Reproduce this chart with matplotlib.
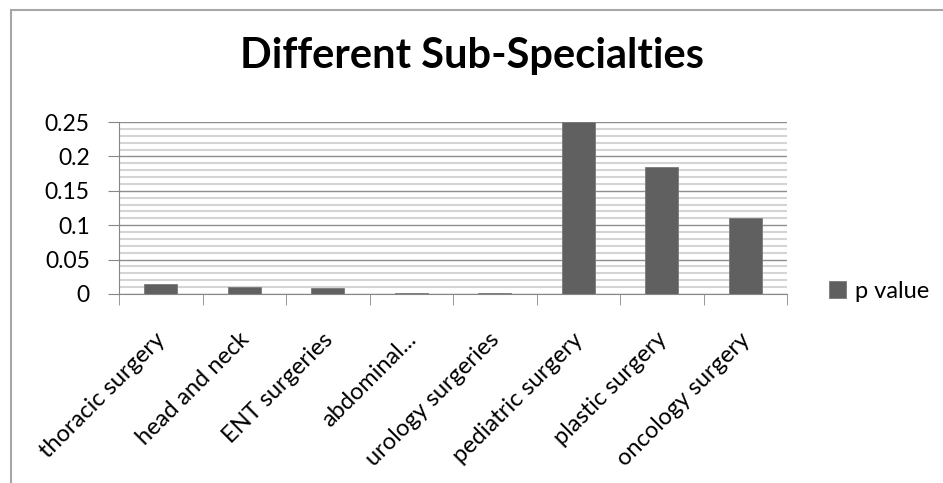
import matplotlib
matplotlib.use("Agg")
import matplotlib.pyplot as plt
from matplotlib.lines import Line2D
from matplotlib.ticker import MultipleLocator, FixedLocator
from matplotlib.transforms import ScaledTranslation
import numpy as np

categories = ["thoracic surgery", "head and neck", "ENT surgeries", "abdominal...",
              "urology surgeries", "pediatric surgery", "plastic surgery", "oncology surgery"]
p_values = [0.015, 0.010, 0.008, 0.0008, 0.0008, 0.25, 0.184, 0.110]
y_ticks = [0, 0.05, 0.1, 0.15, 0.2, 0.25]
y_tick_labels = ["0", "0.05", "0.1", "0.15", "0.2", "0.25"]
series_name = "p value"
title = "Different Sub-Specialties"

FONT = ["Lato", "DejaVu Sans"]
plt.rcParams["font.family"] = FONT

W, H = 943, 483
fig = plt.figure(figsize=(W / 100, H / 100), dpi=100)
fig.patch.set_facecolor("white")

ax = fig.add_axes([119 / W, 1 - 294 / H, (787 - 119) / W, (294 - 122) / H])
x = np.arange(len(categories))
bars = ax.bar(x, p_values, width=0.4, color="#606060", edgecolor="#7a7a7a",
              linewidth=0.6, zorder=3, label=series_name)

ax.set_xlim(-0.5, len(categories) - 0.5)
ax.set_ylim(0, 0.25)

# gridlines
ax.yaxis.set_major_locator(FixedLocator(y_ticks))
ax.set_yticklabels(y_tick_labels)
ax.yaxis.set_minor_locator(MultipleLocator(0.01))
ax.grid(which="minor", axis="y", color="#d4d4d4", linewidth=1.5, zorder=0)
ax.grid(which="major", axis="y", color="#8e8e8e", linewidth=1.0, zorder=1)
ax.grid(which="both", axis="x", visible=False)

ax.spines["top"].set_visible(False)
ax.spines["right"].set_visible(False)
ax.spines["left"].set_color("#868686")
ax.spines["bottom"].set_color("#868686")
ax.spines["left"].set_zorder(4)
ax.spines["bottom"].set_zorder(4)

ax.tick_params(axis="y", which="major", length=8, color="#868686", labelsize=16.5,
               pad=13, direction="out")
ax.tick_params(axis="y", which="minor", length=0)

ax.set_xticks(x)
ax.set_xticks(np.arange(len(categories) + 1) - 0.5, minor=True)
ax.tick_params(axis="x", which="major", length=0, pad=25)
ax.tick_params(axis="x", which="minor", length=8, color="#868686", direction="out")
ax.set_xticklabels(categories, rotation=45, ha="right", va="top",
                   rotation_mode="anchor", fontsize=17)
shift = ScaledTranslation(-6 / 100, 0, fig.dpi_scale_trans)
for lbl in ax.get_xticklabels():
    lbl.set_transform(lbl.get_transform() + shift)

ax.set_axisbelow(True)

fig.text(472 / W, 1 - 56 / H, title, ha="center", va="center",
         fontsize=30, fontweight="bold", color="black")

# legend
leg = fig.legend(handles=[bars], labels=[series_name], loc="center left",
                 bbox_to_anchor=(829 / W, 1 - 291 / H), frameon=False,
                 fontsize=17, handlelength=0.7, handleheight=0.7,
                 handletextpad=0.4, borderpad=0, borderaxespad=0)

# chart-area border (top and left visible)
fig.add_artist(Line2D([10.5 / W, 1.0], [1 - 9.5 / H, 1 - 9.5 / H],
                      transform=fig.transFigure, color="#a6a6a6", linewidth=1.5))
fig.add_artist(Line2D([10.5 / W, 10.5 / W], [1 - 9.5 / H, 0],
                      transform=fig.transFigure, color="#a6a6a6", linewidth=1.5))

fig.savefig("out.png", dpi=100, facecolor="white")
